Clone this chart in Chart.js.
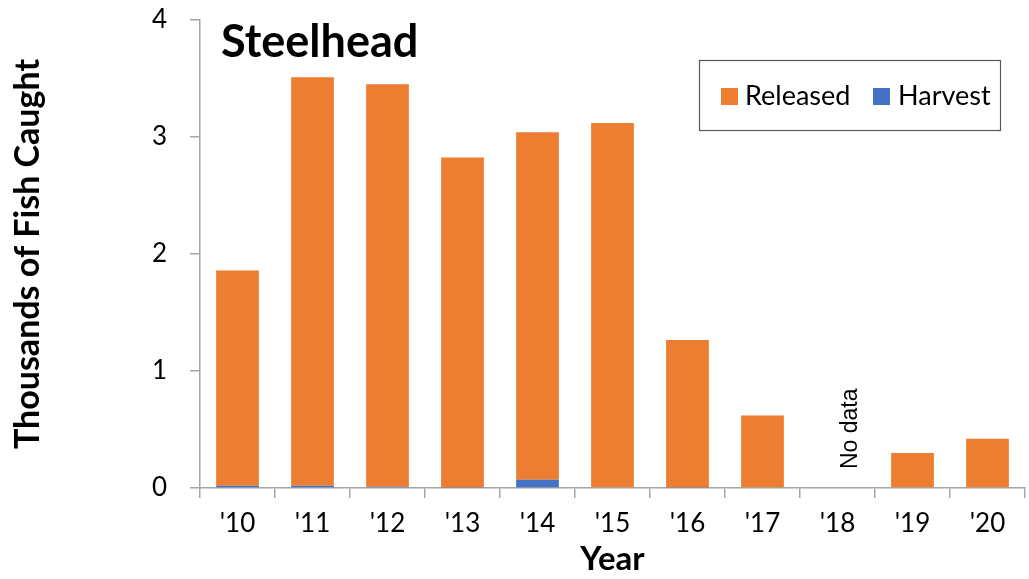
<!DOCTYPE html>
<html>
<head>
<meta charset="utf-8">
<script src="https://cdn.jsdelivr.net/npm/chart.js@4"></script>
<style>
  html, body { margin: 0; padding: 0; background: #fff; }
  #wrap { width: 1029px; height: 579px; }
</style>
</head>
<body>
<div id="wrap"><canvas id="chart" width="1029" height="579"></canvas></div>
<script>
const years = ["'10", "'11", "'12", "'13", "'14", "'15", "'16", "'17", "'18", "'19", "'20"];
// thousands of fish
const harvest = [0.02, 0.02, 0.01, 0.005, 0.07, 0, 0.005, 0, 0, 0, 0];
const released = [1.84, 3.49, 3.44, 2.82, 2.97, 3.12, 1.26, 0.62, 0, 0.30, 0.42];
const yTicks = [0, 1, 2, 3, 4];

const orange = "#ED7D31";
const blue = "#4472C4";
const axisGray = "#A6A6A6";
const fontMain = "Lato, 'Open Sans', sans-serif";

// title, legend box and the "No data" note
const extras = {
  id: "extras",
  afterDraw(chart) {
    const c = chart.ctx;
    const x = chart.scales.x;
    const y = chart.scales.y;
    c.save();
    c.fillStyle = "#000";
    c.font = "bold 45px " + fontMain;
    c.textBaseline = "alphabetic";
    c.textAlign = "left";
    c.fillText("Steelhead", 221, 57);

    // legend
    c.strokeStyle = "#595959";
    c.lineWidth = 1.2;
    c.strokeRect(699.5, 60.5, 301, 70);
    c.font = "27px " + fontMain;
    c.textBaseline = "middle";
    c.fillStyle = orange;
    c.fillRect(721, 88, 17, 17);
    c.fillStyle = "#000";
    c.fillText("Released", 745, 96);
    c.fillStyle = blue;
    c.fillRect(873, 88, 17, 17);
    c.fillStyle = "#000";
    c.fillText("Harvest", 898, 96);

    // no data note
    const nx = x.getPixelForValue(8);
    c.translate(nx + 19, y.getPixelForValue(0) - 19);
    c.rotate(-Math.PI / 2);
    c.font = "23px 'Liberation Sans', Arial, sans-serif";
    c.textBaseline = "alphabetic";
    c.textAlign = "left";
    c.fillText("No data", 0, 0);
    c.restore();
  }
};

const data = {
  labels: years,
  datasets: [
    { label: "Harvest", data: harvest, backgroundColor: blue, stack: "s" },
    { label: "Released", data: released, backgroundColor: orange, stack: "s" }
  ]
};

const config = {
  type: "bar",
  data: data,
  options: {
    responsive: false,
    animation: false,
    layout: { padding: { top: 20, right: 4, left: 0, bottom: 0 } },
    datasets: { bar: { categoryPercentage: 1, barPercentage: 0.57 } },
    plugins: {
      legend: { display: false },
      tooltip: { enabled: false }
    },
    scales: {
      x: {
        stacked: true,
        afterFit: (s) => { s.height = 91; },
        grid: { drawOnChartArea: false, drawTicks: true, tickLength: 10, color: axisGray, lineWidth: 1.5, offset: true },
        border: { display: true, color: axisGray, width: 1.5 },
        ticks: { color: "#000", font: { family: fontMain, size: 26 }, padding: 10 },
        title: { display: true, text: "Year", color: "#000", font: { family: fontMain, size: 33, weight: "bold" }, padding: { top: 0, bottom: 0 } }
      },
      y: {
        stacked: true,
        min: 0,
        max: 4,
        afterFit: (s) => { s.width = 200; s.paddingTop = 0; s.paddingBottom = 0; },
        afterBuildTicks: (s) => { s.ticks = yTicks.map(v => ({ value: v })); },
        grid: { drawOnChartArea: false, drawTicks: true, tickLength: 10, color: axisGray, lineWidth: 1.5 },
        border: { display: true, color: axisGray, width: 1.5 },
        ticks: { color: "#000", font: { family: fontMain, size: 26 }, padding: 23 },
        title: { display: true, text: "Thousands of Fish Caught", color: "#000", font: { family: fontMain, size: 34, weight: "bold" }, padding: { top: 8, bottom: 10 } }
      }
    }
  },
  plugins: [extras]
};

const chart = new Chart(document.getElementById("chart").getContext("2d"), config);
</script>
</body>
</html>
